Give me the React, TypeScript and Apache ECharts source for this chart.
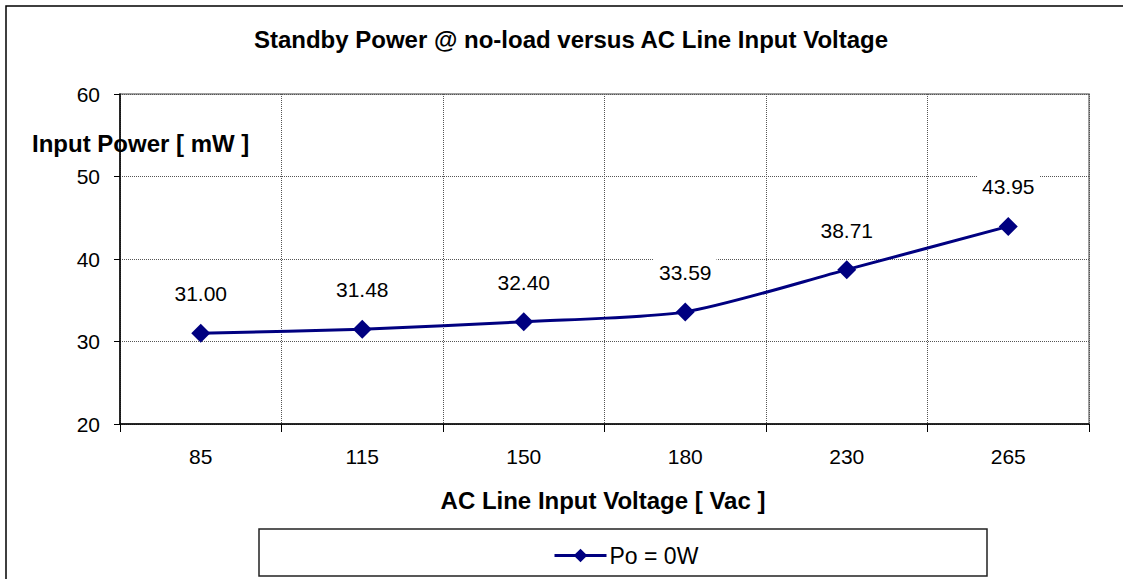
import React, { useEffect, useRef } from "react";
import * as echarts from "echarts";

const categories = ["85", "115", "150", "180", "230", "265"];
const inputPower = [31.0, 31.48, 32.4, 33.59, 38.71, 43.95];
const yTicks = { min: 20, max: 60, interval: 10 };
const titleText = "Standby Power @ no-load versus AC Line Input Voltage";
const yAxisTitle = "Input Power [ mW ]";
const xAxisTitle = "AC Line Input Voltage [ Vac ]";
const seriesName = "Po = 0W";

const FONT = "'Liberation Sans', Arial, sans-serif";

export default function App() {
  const ref = useRef<HTMLDivElement>(null);
  useEffect(() => {
    if (!ref.current) return;
    const chart = echarts.init(ref.current, null, { renderer: "svg" });
    chart.setOption({
      animation: false,
      backgroundColor: "#fff",
      textStyle: { fontFamily: FONT },
      grid: {
        left: 120,
        top: 94,
        right: 34,
        bottom: 155,
        show: true,
        borderColor: "#808080",
        borderWidth: 1.5,
        backgroundColor: "transparent",
      },
      xAxis: {
        type: "category",
        data: categories,
        boundaryGap: true,
        axisLine: { show: true, lineStyle: { color: "#000", width: 1.5 } },
        axisTick: { show: true, length: 8, lineStyle: { color: "#000" } },
        axisLabel: { color: "#000", fontSize: 21, fontFamily: FONT, margin: 22 },
        splitLine: { show: true, lineStyle: { color: "#555", type: [1, 1], width: 1 } },
      },
      yAxis: {
        type: "value",
        min: yTicks.min,
        max: yTicks.max,
        interval: yTicks.interval,
        axisLine: { show: true, lineStyle: { color: "#000", width: 1.5 } },
        axisTick: { show: true, length: 6, lineStyle: { color: "#000" } },
        axisLabel: { color: "#000", fontSize: 21, fontFamily: FONT, margin: 20 },
        splitLine: { show: true, lineStyle: { color: "#555", type: [1, 1], width: 1 } },
      },
      legend: {
        left: 548,
        top: 539,
        itemWidth: 52,
        itemHeight: 17,
        itemGap: 4,
        lineStyle: { width: 3 },
        textStyle: { color: "#000", fontSize: 23, fontFamily: FONT, padding: [0, 0, 0, -2] },
        data: [seriesName],
      },
      series: [
        {
          name: seriesName,
          type: "line",
          data: inputPower,
          smooth: 0.25,
          symbol: "diamond",
          symbolSize: 19,
          itemStyle: { color: "#000080" },
          lineStyle: { color: "#000080", width: 3 },
          label: {
            show: true,
            position: "top",
            distance: 7.5,
            offset: [0, 4],
            color: "#000",
            fontSize: 21,
            fontFamily: FONT,
            backgroundColor: "#fff",
            padding: [6, 5, 16, 5],
            formatter: (p: any) => Number(p.value).toFixed(2),
          },
          z: 3,
        },
      ],
      graphic: [
        {
          type: "rect",
          shape: { x: 6, y: 6, width: 1300, height: 800 },
          style: { fill: "none", stroke: "#000", lineWidth: 1.5 },
          silent: true,
          z: 100,
        },
        {
          type: "rect",
          shape: { x: 259, y: 529, width: 728, height: 47 },
          style: { fill: "none", stroke: "#222", lineWidth: 1.5 },
          silent: true,
        },
        {
          type: "text",
          x: 571,
          y: 39,
          style: {
            text: titleText,
            fill: "#000",
            font: `bold 24px ${FONT}`,
            textAlign: "center",
            textVerticalAlign: "middle",
          },
        },
        {
          type: "text",
          x: 32,
          y: 143,
          style: {
            text: yAxisTitle,
            fill: "#000",
            font: `bold 24px ${FONT}`,
            textAlign: "left",
            textVerticalAlign: "middle",
          },
          z: 10,
        },
        {
          type: "text",
          x: 603,
          y: 500,
          style: {
            text: xAxisTitle,
            fill: "#000",
            font: `bold 24px ${FONT}`,
            textAlign: "center",
            textVerticalAlign: "middle",
          },
        },
      ],
    });
    return () => chart.dispose();
  }, []);
  return (
    <div
      ref={ref}
      style={{ position: "fixed", left: 0, top: 0, width: 1123, height: 579 }}
    />
  );
}
